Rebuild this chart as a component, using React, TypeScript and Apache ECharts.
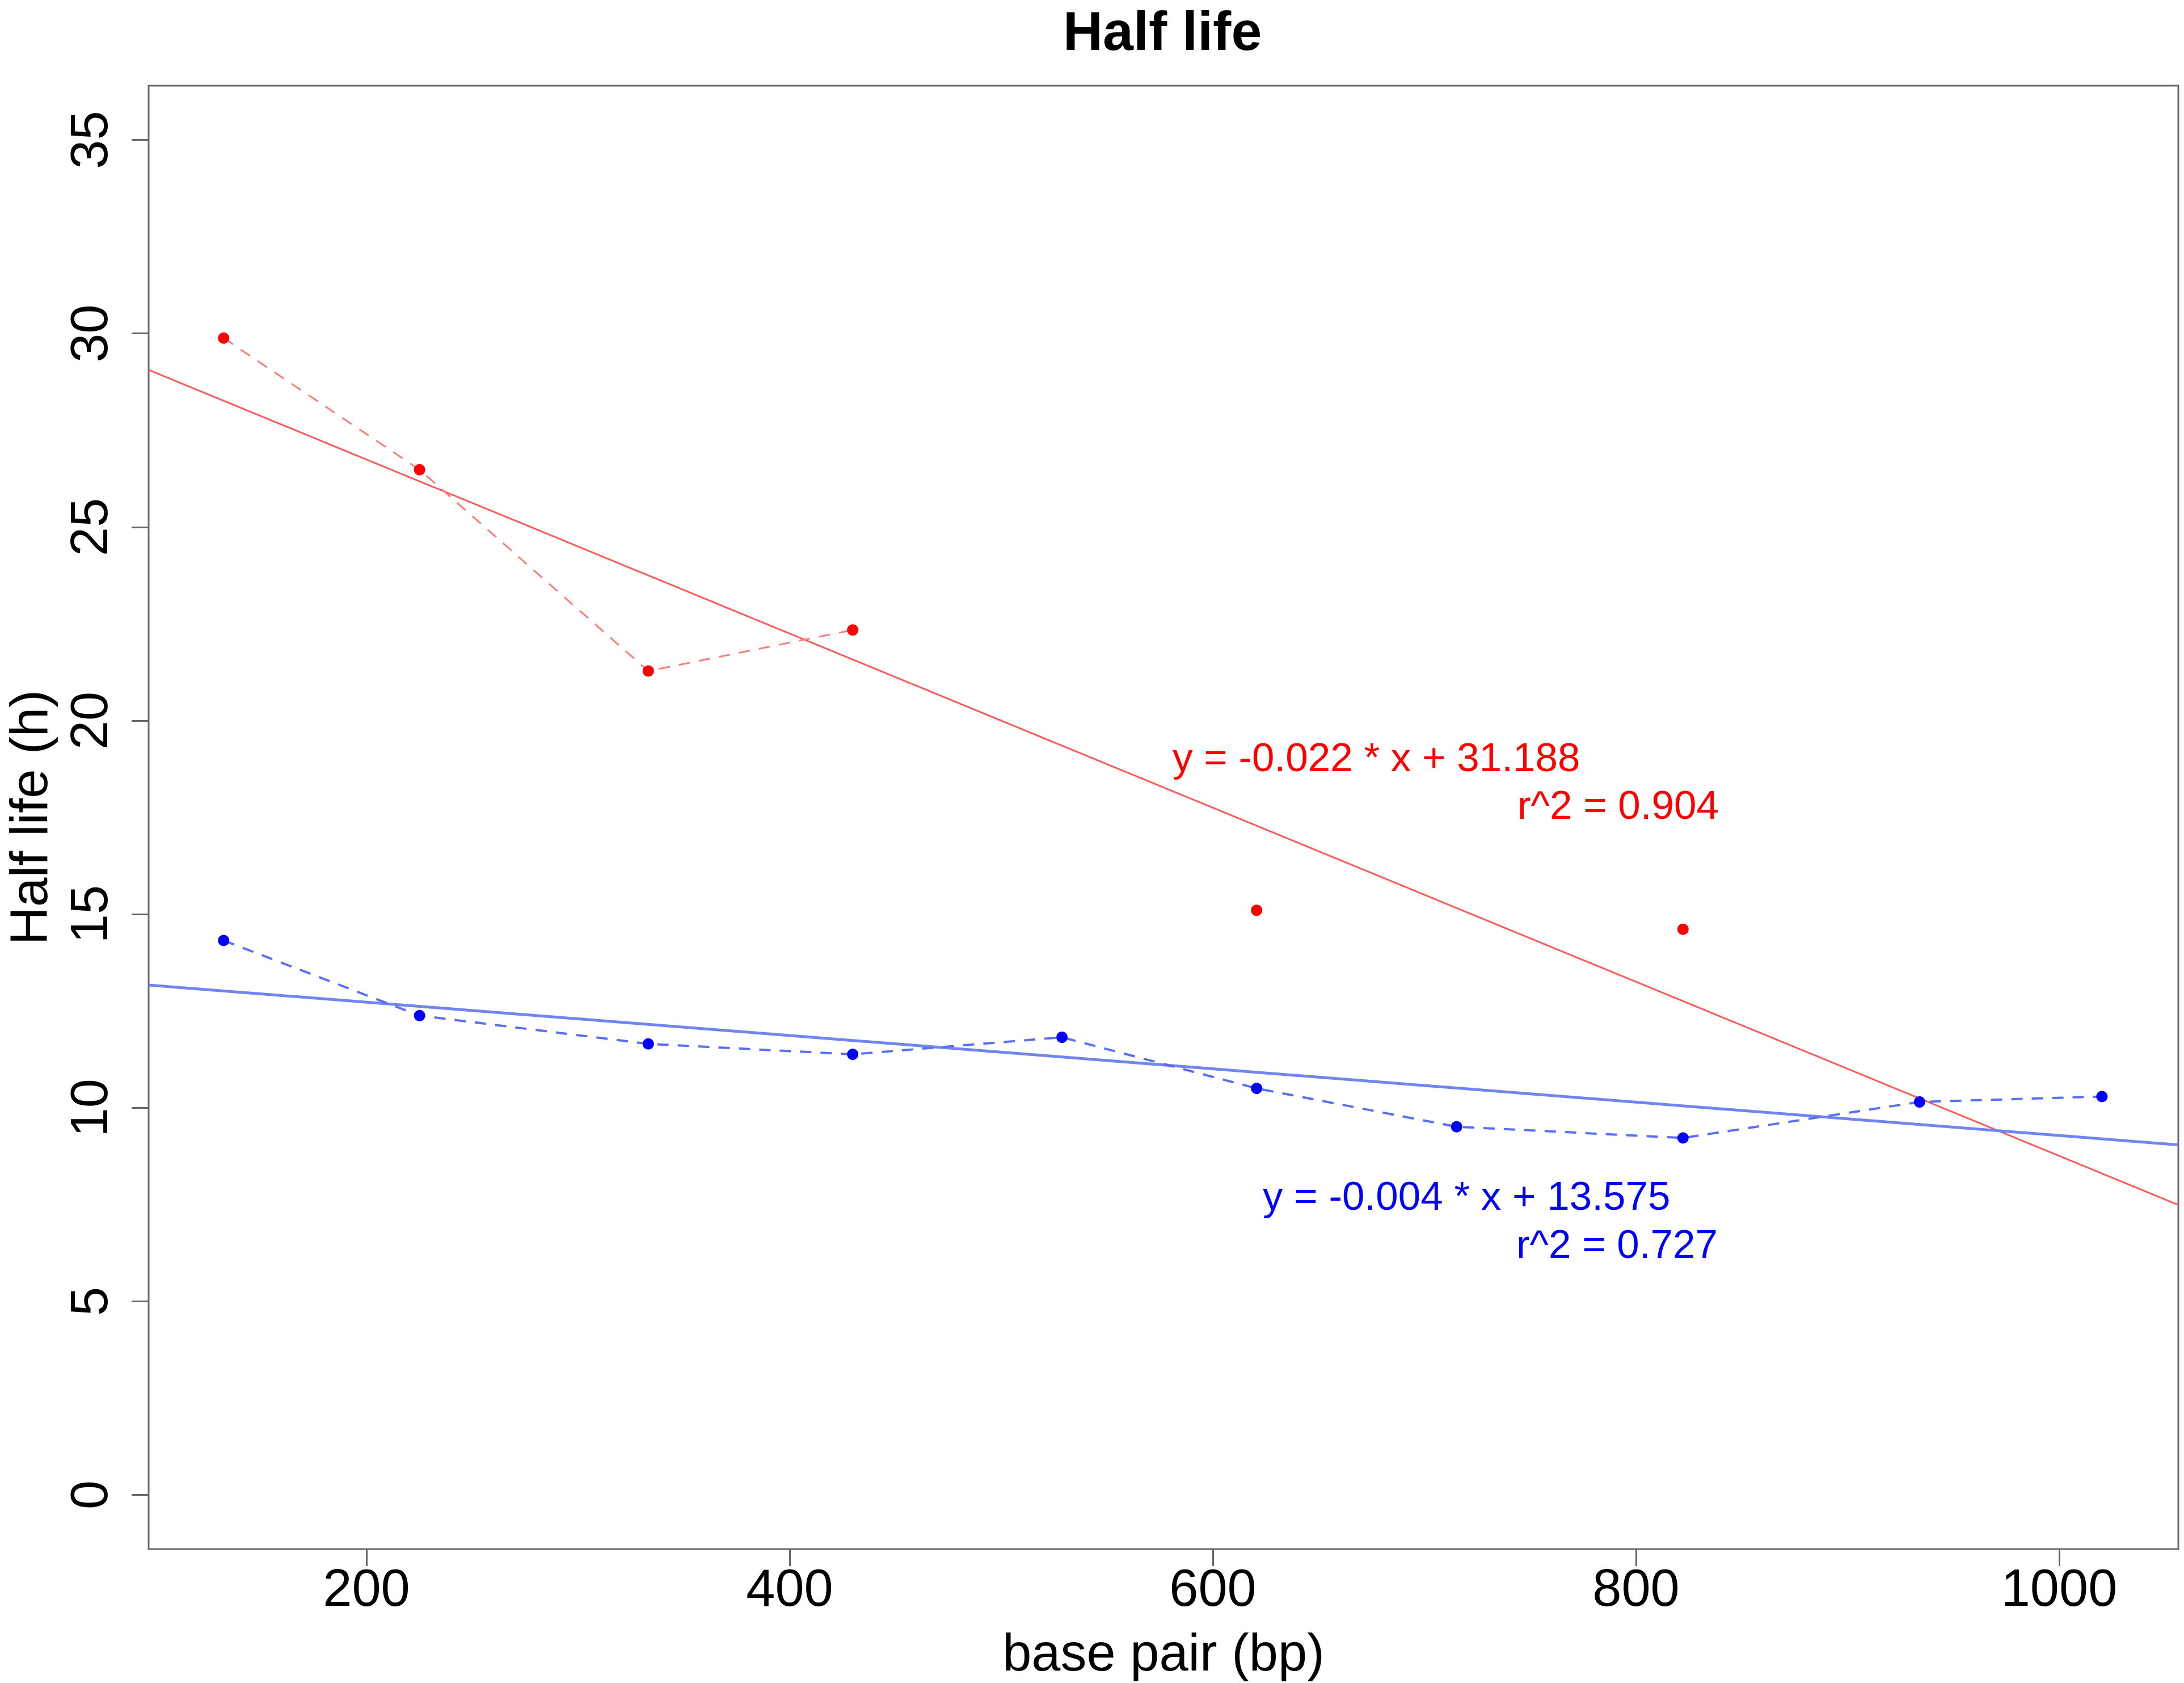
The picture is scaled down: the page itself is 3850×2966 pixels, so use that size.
import React, { useEffect, useRef } from "react";
import * as echarts from "echarts";

// ---- data ----
const basePairs = [132.5, 225.1, 333.2, 429.8, 528.7, 620.7, 715.2, 822.2, 934.0, 1020.2];
const halfLifeRed: (number | null)[] = [29.88, 26.48, 21.28, 22.34, null, 15.1, null, 14.61, null, null];
const halfLifeBlue: (number | null)[] = [14.32, 12.38, 11.65, 11.38, 11.82, 10.5, 9.51, 9.22, 10.15, 10.29];

// fitted lines, read at the two edges of the plotting region
const fitX = [97.05, 1056.3];
const redFitY = [29.06, 7.49];
const blueFitY = [13.17, 9.04];

const xTicks = [200, 400, 600, 800, 1000];
const yTicks = [0, 5, 10, 15, 20, 25, 30, 35];

const redEquation = "y = -0.022 * x + 31.188";
const redR2 = "r^2 = 0.904";
const blueEquation = "y = -0.004 * x + 13.575";
const blueR2 = "r^2 = 0.727";

const FONT = "Liberation Sans, Arial, sans-serif";

function pairs(xs: number[], ys: (number | null)[]) {
  return xs.map((x, i) => [x, ys[i] === null ? "-" : ys[i]]);
}

export default function App() {
  const ref = useRef<HTMLDivElement>(null);

  useEffect(() => {
    document.body.style.margin = "0";
    if (!ref.current) return;
    const chart = echarts.init(ref.current, undefined, { renderer: "svg" });
    const tickStyle = { color: "#666", width: 3 };
    const annot = (text: string, x: number, y: number, fill: string, align: string) => ({
      type: "text",
      x,
      y,
      style: {
        text,
        fill,
        fontFamily: FONT,
        fontSize: 71,
        textAlign: align,
        align,
        textVerticalAlign: "middle",
        verticalAlign: "middle",
      },
    });
    chart.setOption({
      animation: false,
      backgroundColor: "#ffffff",
      title: {
        text: "Half life",
        left: 1874,
        top: 0,
        padding: 0,
        textStyle: {
          fontFamily: FONT,
          fontSize: 97,
          fontWeight: "bold",
          color: "#000",
          lineHeight: 108,
        },
      },
      grid: {
        left: 262,
        right: 10,
        top: 151,
        bottom: 236,
        containLabel: false,
        outerBoundsMode: "none",
        show: true,
        borderColor: "#6a6a6a",
        borderWidth: 3,
        backgroundColor: "transparent",
      },
      xAxis: {
        type: "value",
        min: 97.05,
        max: 1056.3,
        name: "base pair (bp)",
        nameLocation: "middle",
        nameGap: 130,
        nameTextStyle: { fontFamily: FONT, fontSize: 92, color: "#000", lineHeight: 104 },
        axisLine: { show: false, onZero: false },
        splitLine: { show: false },
        axisTick: { show: true, length: 30, lineStyle: tickStyle, customValues: xTicks },
        axisLabel: {
          customValues: xTicks,
          formatter: (v: number) => String(v),
          fontFamily: FONT,
          fontSize: 92,
          lineHeight: 92,
          color: "#000",
          margin: 22,
        },
      },
      yAxis: {
        type: "value",
        min: -1.4,
        max: 36.4,
        name: "Half life (h)",
        nameLocation: "middle",
        nameGap: 158,
        nameTextStyle: { fontFamily: FONT, fontSize: 93, color: "#000", lineHeight: 104 },
        axisLine: { show: false, onZero: false },
        splitLine: { show: false },
        axisTick: { show: true, length: 30, lineStyle: tickStyle, customValues: yTicks },
        axisLabel: {
          customValues: yTicks,
          formatter: (v: number) => String(v),
          rotate: 90,
          fontFamily: FONT,
          fontSize: 92,
          lineHeight: 92,
          color: "#000",
          margin: 59,
        },
      },
      series: [
        {
          type: "line",
          name: "red",
          data: pairs(basePairs, halfLifeRed),
          connectNulls: false,
          symbol: "circle",
          symbolSize: 20,
          showAllSymbol: true,
          itemStyle: { color: "#ff0000" },
          lineStyle: { color: "#ff7a7a", width: 3, type: [20, 16] },
          z: 3,
        },
        {
          type: "line",
          name: "blue",
          data: pairs(basePairs, halfLifeBlue),
          connectNulls: false,
          symbol: "circle",
          symbolSize: 20,
          showAllSymbol: true,
          itemStyle: { color: "#0000ff" },
          lineStyle: { color: "#5a6ff5", width: 4, type: [20, 16] },
          z: 3,
        },
        {
          type: "line",
          name: "red fit",
          data: pairs(fitX, redFitY),
          symbol: "none",
          lineStyle: { color: "#ff5a5a", width: 3 },
          z: 2,
        },
        {
          type: "line",
          name: "blue fit",
          data: pairs(fitX, blueFitY),
          symbol: "none",
          lineStyle: { color: "#6f85f2", width: 5 },
          z: 2,
        },
      ],
      graphic: [
        annot(redEquation, 2067, 1334, "#ff0000", "left"),
        annot(redR2, 3030, 1418, "#ff0000", "right"),
        annot(blueEquation, 2226, 2107, "#0000ff", "left"),
        annot(blueR2, 3028, 2192, "#0000ff", "right"),
      ],
    });
    return () => chart.dispose();
  }, []);

  return <div ref={ref} style={{ width: 3850, height: 2966 }} />;
}
